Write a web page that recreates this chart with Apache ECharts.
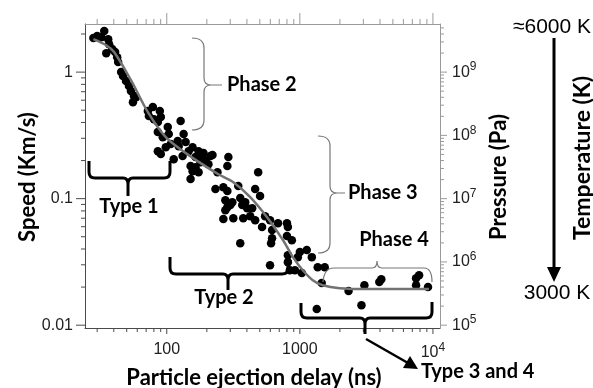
<!DOCTYPE html>
<html>
<head>
<meta charset="utf-8">
<script src="https://cdn.jsdelivr.net/npm/echarts@6/dist/echarts.min.js"></script>
<style>
  html, body { margin: 0; padding: 0; background: #fff; }
  #chart { width: 593px; height: 388px; }
</style>
</head>
<body>
<div id="chart"></div>
<script>
// measured points: [delay (ns), speed (km/s)]
const measured = [
  [28.1, 1.86], [30.0, 1.93], [33.9, 2.11], [32.2, 1.89], [36.3, 1.82], [36.9, 1.66],
  [35.1, 1.41], [38.9, 1.52], [40.9, 1.44], [42.4, 1.31], [43.1, 1.20], [45.4, 1.00],
  [46.9, 0.93], [49.4, 0.849], [52.0, 0.775], [53.8, 0.708], [56.7, 0.646], [55.7, 0.579],
  [58.7, 0.634], [72.1, 0.492], [73.4, 0.449], [78.6, 0.529], [80.0, 0.425], [85.7, 0.403],
  [88.7, 0.492], [90.2, 0.441], [85.7, 0.336], [93.3, 0.306], [101.7, 0.368], [103.5, 0.324],
  [127.1, 0.410], [85.7, 0.237], [90.2, 0.225], [98.3, 0.255], [107.1, 0.270], [112.8, 0.205],
  [120.8, 0.285], [122.9, 0.260], [133.9, 0.324], [138.6, 0.280], [131.6, 0.217], [145.9, 0.237],
  [156.3, 0.255], [164.5, 0.213], [173.4, 0.237], [185.7, 0.217], [179.4, 0.194], [151.0, 0.181],
  [156.3, 0.165], [164.5, 0.177], [195.5, 0.198], [213.0, 0.217], [205.6, 0.187], [173.4, 0.162],
  [151.0, 0.143], [240.4, 0.162], [290.3, 0.213], [285.3, 0.181], [344.6, 0.126], [486.2, 0.162],
  [232.2, 0.119], [266.2, 0.123], [285.3, 0.115], [461.5, 0.119], [188.8, 0.229], [220.5, 0.221],
  [502.5, 0.105], [275.6, 0.0973], [285.3, 0.0857], [300.4, 0.0889], [275.6, 0.0811], [310.9, 0.0938],
  [356.6, 0.101], [369.1, 0.0889], [388.6, 0.0938], [402.1, 0.0841], [438.4, 0.0841], [266.2, 0.0689],
  [316.2, 0.0701], [375.5, 0.0701], [423.6, 0.0727], [461.5, 0.0676], [520.0, 0.0596], [548.0, 0.0727],
  [597.0, 0.0676], [618.3, 0.0564], [685.4, 0.0640], [800, 0.0640], [813, 0.0596], [618.3, 0.0487],
  [607.9, 0.0445], [356.6, 0.0445], [800, 0.0506], [871, 0.0470], [1000, 0.0378], [1127, 0.0392],
  [1230, 0.0345], [966, 0.0345], [597.0, 0.0298], [813, 0.0357], [813, 0.0315], [842, 0.0272],
  [918, 0.0272], [1035, 0.0258], [1362, 0.0287], [1538, 0.0287], [1459, 0.0215], [2323, 0.0186],
  [3055, 0.0207], [3955, 0.0219], [4093, 0.0231], [7470, 0.0235], [7870, 0.0248], [7470, 0.0207],
  [9180, 0.0200], [1340, 0.0134], [2904, 0.0144]
];

// fitted curve
const fitCurve = [
  [28.1, 1.82], [35.1, 1.63], [40.2, 1.44], [53.8, 0.864], [72.1, 0.483], [98.3, 0.306],
  [138.6, 0.229], [179.4, 0.191], [244.4, 0.156], [316.2, 0.135], [423.6, 0.103], [567, 0.0714],
  [747, 0.0470], [887, 0.0345], [1052, 0.0272], [1250, 0.0227], [1485, 0.0207], [1990, 0.0196],
  [3162, 0.0193], [9330, 0.0193]
];

// axis ranges
const xMin = 24.3, xMax = 11300;
const vMin = 0.0095, vMax = 2.4;
const pMin = 1e9 * vMin * vMin, pMax = 1e9 * vMax * vMax;   // P = 1e9 * v^2

const xDecades = [10, 100, 1000, 10000];
const vDecades = [0.01, 0.1, 1];
const pDecades = [1e5, 1e6, 1e7, 1e8, 1e9];
const minorMult = [2, 3, 4, 5, 6, 7, 8, 9];

function ticksFor(decades, lo, hi) {
  const out = [];
  decades.forEach(d => {
    if (d >= lo && d <= hi) out.push([d, 1]);
    minorMult.forEach(m => { const v = d * m; if (v >= lo && v <= hi) out.push([v, 0]); });
  });
  return out;
}
const xTicks = ticksFor(xDecades, xMin, xMax);
const vTicks = ticksFor(vDecades, vMin, vMax);
const pTicks = ticksFor(pDecades, pMin, pMax);

function isPow10(v) {
  const l = Math.log10(v);
  return Math.abs(l - Math.round(l)) < 1e-6;
}

const dark = '#4a4a4a', light = '#9a9a9a';

function tickSeries(data, yIdx, side, majorLen, minorLen, color) {
  return {
    type: 'custom', xAxisIndex: 0, yAxisIndex: yIdx, silent: true, clip: false, z: 5,
    data: data,
    renderItem: function (params, api) {
      const p = api.coord([api.value(0), api.value(1)]);
      const len = api.value(2) ? majorLen : minorLen;
      let x2 = p[0], y2 = p[1];
      if (side === 'bottom') y2 += len;
      if (side === 'top') y2 -= len;
      if (side === 'left') x2 -= len;
      if (side === 'right') x2 += len;
      return { type: 'line', shape: { x1: p[0], y1: p[1], x2: x2, y2: y2 },
               style: { stroke: color, lineWidth: 1 } };
    }
  };
}

// brace outlines (pixel paths)
const thinBraces = [
  'M192,38 Q204,38 204,48 L204,78 Q204,85 211,85 Q204,85 204,92 L204,120 Q204,130 192,130 M211,85 L222,85',
  'M318,136 Q330,136 330,146 L330,186 Q330,193 337,193 Q330,193 330,200 L330,243 Q330,253 318,253 M337,193 L345,193',
  'M323,282 Q324,268 334,268 L372,268 Q377,268 377,261 Q377,268 382,268 L424,268 Q432,268 432,282'
];
const thickBraces = [
  'M89,161 L89,172 Q89,178 95,178 L123,178 Q128,178 128,184 L128,196 M128,184 Q128,178 133,178 L164,178 Q170,178 170,172 L170,161',
  'M170,257 L170,268 Q170,274 176,274 L223,274 Q228,274 228,280 L228,290 M228,280 Q228,274 233,274 L282,274 Q288,274 288,268 L288,264',
  'M301,303 L301,312 Q301,318 307,318 L360,318 Q365,318 365,324 L365,334 M365,324 Q365,318 370,318 L426,318 Q432,318 432,312 L432,302'
];

const labelFont = { fontFamily: 'Liberation Sans', fontSize: 16, color: '#222' };
const boldFont = 'bold 20px Lato';
const titleFont = 'bold 22px Lato';

let myChart = echarts.init(document.getElementById('chart'));
let option = {
  animation: false,
  backgroundColor: '#fff',
  grid: { left: 85, top: 24, width: 355, height: 304 },
  xAxis: [
    {
      type: 'log', min: xMin, max: xMax, position: 'bottom',
      axisLine: { lineStyle: { color: dark, width: 1 } },
      axisTick: { show: false }, splitLine: { show: false },
      axisLabel: Object.assign({}, labelFont, {
        margin: 14,
        formatter: v => {
          if (!isPow10(v)) return '';
          const e = Math.round(Math.log10(v));
          return e >= 4 ? '10{sup|' + e + '}' : String(Math.pow(10, e));
        },
        rich: { sup: { fontFamily: 'Liberation Sans', fontSize: 12, color: '#222', padding: [0, 0, 10, 0] } }
      })
    },
    {
      type: 'log', min: xMin, max: xMax, position: 'top',
      axisLine: { lineStyle: { color: light, width: 1 } },
      axisTick: { show: false }, splitLine: { show: false }, axisLabel: { show: false }
    }
  ],
  yAxis: [
    {
      type: 'log', min: vMin, max: vMax, position: 'left',
      axisLine: { lineStyle: { color: dark, width: 1 } },
      axisTick: { show: false }, splitLine: { show: false },
      axisLabel: Object.assign({}, labelFont, {
        margin: 12,
        formatter: v => isPow10(v) ? String(Number(v.toPrecision(3))) : ''
      })
    },
    {
      type: 'log', min: pMin, max: pMax, position: 'right',
      axisLine: { lineStyle: { color: light, width: 1 } },
      axisTick: { show: false }, splitLine: { show: false },
      axisLabel: Object.assign({}, labelFont, {
        margin: 12,
        formatter: v => isPow10(v) ? '10{sup|' + Math.round(Math.log10(v)) + '}' : '',
        rich: { sup: { fontFamily: 'Liberation Sans', fontSize: 12, color: '#222', padding: [0, 0, 10, 0] } }
      })
    }
  ],
  series: [
    {
      name: 'measured', type: 'scatter', symbol: 'circle', symbolSize: 8.5, z: 2,
      itemStyle: { color: '#000', opacity: 1 },
      data: measured
    },
    {
      name: 'fit', type: 'line', smooth: 0.3, showSymbol: false, z: 3,
      lineStyle: { color: '#737373', width: 2.5 },
      data: fitCurve
    },
    tickSeries(xTicks.map(t => [t[0], vMin, t[1]]), 0, 'bottom', 6, 4, dark),
    tickSeries(xTicks.map(t => [t[0], vMax, t[1]]), 0, 'top', 11, 5, light),
    tickSeries(vTicks.map(t => [xMin, t[0], t[1]]), 0, 'left', 9, 4, dark),
    tickSeries(pTicks.map(t => [xMax, t[0], t[1]]), 1, 'right', 7, 4, light),
    {
      // annotation braces
      type: 'custom', silent: true, clip: false, z: 6,
      data: [[xMin, vMin]],
      renderItem: function () {
        const kids = [];
        thinBraces.forEach(d => kids.push({ type: 'path', shape: { pathData: d },
          style: { stroke: '#777', lineWidth: 1.2, fill: null } }));
        thickBraces.forEach(d => kids.push({ type: 'path', shape: { pathData: d },
          style: { stroke: '#000', lineWidth: 3, fill: null } }));
        return { type: 'group', children: kids };
      }
    }
  ],
  graphic: [
    // axis titles
    { type: 'text', x: 28, y: 177, rotation: Math.PI / 2,
      style: { text: 'Speed (Km/s)', font: titleFont, fill: '#000', align: 'center', verticalAlign: 'middle' } },
    { type: 'text', x: 254, y: 378,
      style: { text: 'Particle ejection delay (ns)', font: titleFont, fill: '#000', align: 'center', verticalAlign: 'middle' } },
    { type: 'text', x: 499, y: 177, rotation: Math.PI / 2,
      style: { text: 'Pressure (Pa)', font: titleFont, fill: '#000', align: 'center', verticalAlign: 'middle' } },
    { type: 'text', x: 583, y: 158, rotation: Math.PI / 2,
      style: { text: 'Temperature (K)', font: 'bold 23px Lato', fill: '#000', align: 'center', verticalAlign: 'middle' } },
    // temperature arrow
    { type: 'text', x: 552, y: 27,
      style: { text: '≈6000 K', font: '21px Liberation Sans', fill: '#000', align: 'center', verticalAlign: 'middle' } },
    { type: 'text', x: 557, y: 293,
      style: { text: '3000 K', font: '21px Liberation Sans', fill: '#000', align: 'center', verticalAlign: 'middle' } },
    { type: 'line', shape: { x1: 554, y1: 38, x2: 554, y2: 272 }, style: { stroke: '#000', lineWidth: 3 } },
    { type: 'polygon', shape: { points: [[547, 267], [561, 267], [554, 282]] }, style: { fill: '#000' } },
    // brace labels
    { type: 'text', x: 227, y: 85, style: { text: 'Phase 2', font: boldFont, fill: '#000', align: 'left', verticalAlign: 'middle' } },
    { type: 'text', x: 348, y: 193, style: { text: 'Phase 3', font: boldFont, fill: '#000', align: 'left', verticalAlign: 'middle' } },
    { type: 'text', x: 394, y: 240, style: { text: 'Phase 4', font: boldFont, fill: '#000', align: 'center', verticalAlign: 'middle' } },
    { type: 'text', x: 129, y: 207, style: { text: 'Type 1', font: boldFont, fill: '#000', align: 'center', verticalAlign: 'middle' } },
    { type: 'text', x: 224, y: 298, style: { text: 'Type 2', font: boldFont, fill: '#000', align: 'center', verticalAlign: 'middle' } },
    { type: 'line', shape: { x1: 366, y1: 339, x2: 408, y2: 363 }, style: { stroke: '#000', lineWidth: 2.5 } },
    { type: 'polygon', shape: { points: [[418, 369], [403, 368], [410, 356]] }, style: { fill: '#000' } },
    { type: 'text', x: 421, y: 372, style: { text: 'Type 3 and 4', font: boldFont, fill: '#000', align: 'left', verticalAlign: 'middle' } }
  ]
};
myChart.setOption(option);
window.addEventListener('resize', () => { myChart.resize(); }, true);
</script>
</body>
</html>
